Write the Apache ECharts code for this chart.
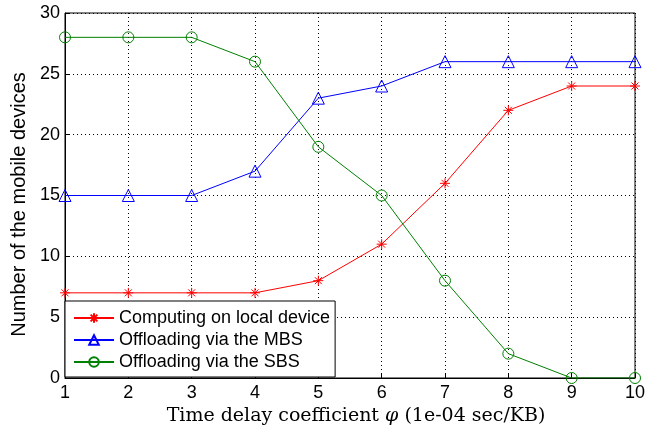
<!DOCTYPE html>
<html>
<head>
<meta charset="utf-8">
<script src="https://cdn.jsdelivr.net/npm/echarts@6/dist/echarts.min.js"></script>
<style>
  html, body { margin: 0; padding: 0; background: #fff; }
  #chart { width: 656px; height: 430px; }
</style>
</head>
<body>
<div id="chart"></div>
<script>
const delayCoef = [1, 2, 3, 4, 5, 6, 7, 8, 9, 10];
const localDevice = [7, 7, 7, 7, 8, 11, 16, 22, 24, 24];
const viaMBS = [15, 15, 15, 17, 23, 24, 26, 26, 26, 26];
const viaSBS = [28, 28, 28, 26, 19, 15, 8, 2, 0, 0];
const seriesNames = ["Computing on local device", "Offloading via the MBS", "Offloading via the SBS"];

const asterisk = "path://M5 0L5 10M0 5L10 5M1.5 1.5L8.5 8.5M1.5 8.5L8.5 1.5";
const pairs = vals => delayCoef.map((x, i) => [x, vals[i]]);

function lineSeries(name, vals, color, symbol, size) {
  return {
    name, type: "line", data: pairs(vals),
    symbol, symbolSize: size,
    lineStyle: { color, width: 1 },
    itemStyle: { color: symbol === asterisk ? color : "rgba(0,0,0,0)", borderColor: color, borderWidth: 1 },
    emphasis: { disabled: true },
    animation: false
  };
}

const tickFont = { fontFamily: "Liberation Sans", fontSize: 18, color: "#000" };
const gridLine = { show: true, lineStyle: { color: "#000", type: [1, 3], width: 1 } };

const chart = echarts.init(document.getElementById("chart"), null, { renderer: "canvas" });
chart.setOption({
  backgroundColor: "#fff",
  grid: { left: 65, right: 21, top: 13, bottom: 52, outerBoundsMode: "none", containLabel: false,
    show: true, borderColor: "#000", borderWidth: 1, backgroundColor: "transparent" },
  xAxis: {
    type: "value", min: 1, max: 10, interval: 1,
    name: "Time delay coefficient {phi|φ} (1e-04 sec/KB)",
    nameLocation: "middle", nameGap: 28,
    nameTextStyle: { fontFamily: "DejaVu Serif", fontSize: 19, color: "#000", padding: [0, 0, 0, 12],
      rich: { phi: { fontFamily: "DejaVu Serif", fontStyle: "italic", fontSize: 19, color: "#000" } } },
    axisLine: { lineStyle: { color: "#000" } },
    axisTick: { inside: true, length: 5, lineStyle: { color: "#000" } },
    axisLabel: Object.assign({ margin: 6 }, tickFont),
    splitLine: gridLine
  },
  yAxis: {
    type: "value", min: 0, max: 30, interval: 5,
    name: "Number of the mobile devices",
    nameLocation: "middle", nameGap: 25,
    nameTextStyle: { fontFamily: "Liberation Sans", fontSize: 20, color: "#000", padding: [0, 18, 0, 0] },
    axisLine: { lineStyle: { color: "#000" } },
    axisTick: { inside: true, length: 5, lineStyle: { color: "#000" } },
    axisLabel: Object.assign({ margin: 5 }, tickFont),
    splitLine: gridLine
  },
  legend: {
    data: seriesNames,
    orient: "vertical",
    left: 65, bottom: 53,
    backgroundColor: "#fff",
    borderColor: "#000", borderWidth: 1, borderRadius: 0,
    padding: [8, 5, 6, 8],
    itemWidth: 40, itemHeight: 12, itemGap: 4,
    textStyle: { fontFamily: "Liberation Sans", fontSize: 18, color: "#000" }
  },
  series: [
    lineSeries(seriesNames[0], localDevice, "#ff0000", asterisk, 10),
    lineSeries(seriesNames[1], viaMBS, "#0000ff", "triangle", 12),
    lineSeries(seriesNames[2], viaSBS, "#008000", "circle", 11)
  ]
});
</script>
</body>
</html>
